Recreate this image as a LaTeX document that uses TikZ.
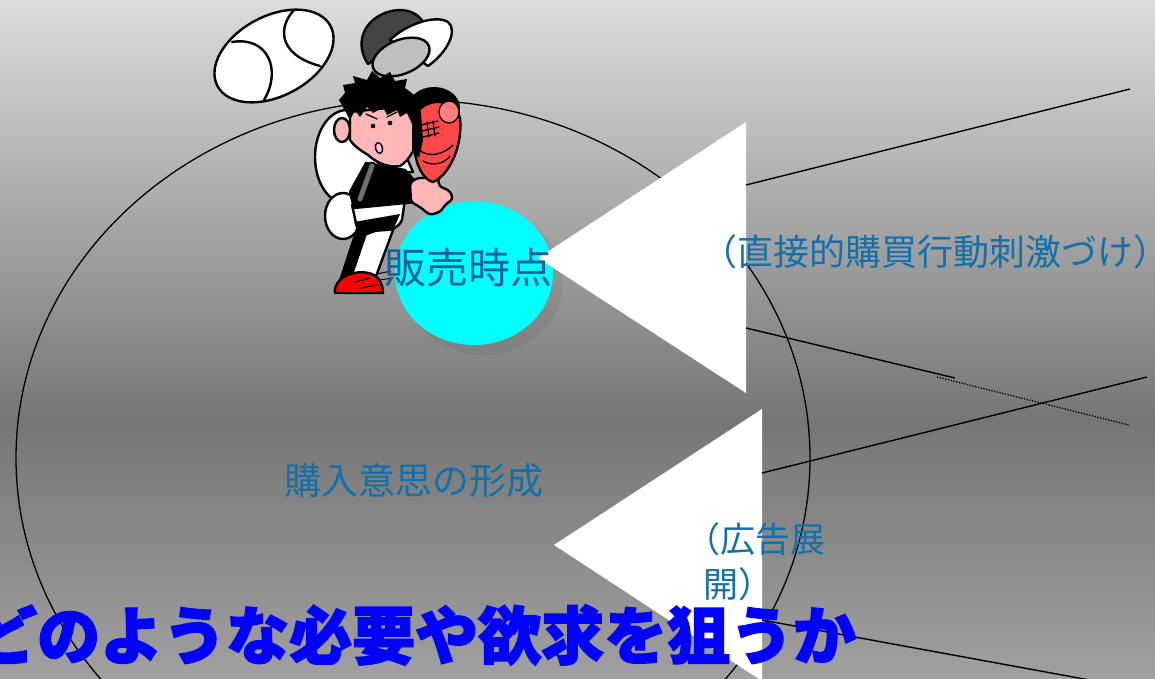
\documentclass[tikz,border=0pt]{standalone}
\usepackage{fontspec}
\usetikzlibrary{shapes.geometric}
\newfontfamily\jpfont{Noto Sans CJK JP}
\newfontfamily\jphalf{Noto Sans CJK JP}[RawFeature=+halt]
\newfontfamily\jpheavy{Noto Sans CJK JP}[FakeBold=2.4]
\newcommand*\lpar{{\jphalf （}}
\newcommand*\rpar{{\jphalf ）}}
\definecolor{bgtop}{RGB}{220,220,220}
\definecolor{bgmid}{RGB}{118,118,118}
\definecolor{bgbot}{RGB}{160,160,160}
\definecolor{labelblue}{RGB}{18,112,170}
\definecolor{posblue}{RGB}{14,98,158}
\definecolor{titleblue}{RGB}{0,0,255}
\definecolor{disc}{RGB}{0,255,255}
\definecolor{skin}{RGB}{255,182,182}
\definecolor{glovered}{RGB}{255,72,72}
\definecolor{capdark}{RGB}{68,68,68}
\definecolor{capunder}{RGB}{192,192,192}
\definecolor{mouthpink}{RGB}{238,196,238}
\definecolor{stripegray}{RGB}{110,110,110}
\begin{document}
\begin{tikzpicture}[x=1pt,y=-1pt,
  ink/.style={draw=black, line width=2.4pt, line join=round, line cap=round},
  fine ink/.style={draw=black, line width=1.3pt, line cap=round},
  leader/.style={draw=black, line width=1.4pt},
  dotted leader/.style={draw=black, line width=1.3pt, dash pattern=on 1.3pt off 1.5pt},
  pointer/.style={fill=white},
  label text/.style={inner sep=0, text=labelblue},
]
\useasboundingbox (0,0) rectangle (1155,678);
\clip (0,0) rectangle (1155,678);

% backdrop
\shade[top color=bgtop, bottom color=bgmid] (0,0) rectangle (1155,421);
\shade[top color=bgmid, bottom color=bgbot] (0,420) rectangle (1155,678);

% outer ring and point-of-sale disc
\node[ellipse, draw=black, line width=1.3pt, minimum width=794, minimum height=716, inner sep=0] (market) at (413,458) {};
\fill[black, opacity=0.05] (483,282) ellipse [x radius=80, y radius=73];
\node[ellipse, fill=disc, minimum width=158, minimum height=144, inner sep=0] (pos) at (474,273) {};

% ---- pitcher ----
% ball
\begin{scope}
  \clip[rotate around={28:(274,56)}] (274,56) ellipse [x radius=64, y radius=40];
  \fill[white, rotate around={28:(274,56)}] (274,56) ellipse [x radius=64, y radius=40];
  \draw[ink] (296,8) .. controls (278,25) and (276,54) .. (320,66);
  \draw[ink] (232,42) .. controls (268,36) and (282,70) .. (264,100);
\end{scope}
\draw[ink, rotate around={28:(274,56)}] (274,56) ellipse [x radius=64, y radius=40];
% cap
\draw[ink, fill=capdark] (368,64) .. controls (355,45) and (362,22) .. (385,13) .. controls (400,7) and (418,10) .. (424,24) -- cycle;
\draw[ink, fill=white] (390,40) .. controls (405,25) and (435,14) .. (448,22) .. controls (458,30) and (448,52) .. (428,66) -- cycle;
\draw[ink, fill=capunder, rotate around={22:(401,57)}] (401,57) ellipse [x radius=30, y radius=17];
% body
\draw[ink, fill=white] (347,157) ellipse [x radius=32, y radius=47];
\draw[ink, fill=white] (343,216) ellipse [x radius=18, y radius=23];
\draw[ink, fill=white] (358,226) -- (396,222) -- (375,279) -- (340,281) -- cycle;
\fill[black] (358,226) -- (369,228) -- (351,281) -- (340,281) -- cycle;
\draw[ink, fill=white] (352,205) -- (405,199) -- (402,220) .. controls (398,228) and (392,230) .. (386,230) -- (358,232) -- cycle;
\fill[black] (354,222) -- (400,214) -- (394,228) .. controls (380,230) and (368,234) .. (362,238) -- cycle;
\draw[ink, fill=white] (376,158) -- (406,156) -- (413,172) -- (384,174) -- cycle;
\draw[ink, fill=black] (366,163) -- (405,170) -- (414,180) -- (416,202) -- (354,208) -- (350,192) -- cycle;
\draw[black, line width=9pt, line cap=round] (372,166) -- (360,199);
\draw[stripegray, line width=5pt, line cap=round] (372,166) -- (360,199);
% pitching hand
\draw[ink, fill=skin, rounded corners=3pt] (410,183) -- (417,178) -- (428,178) -- (432,172) -- (438,176) -- (439,186) -- (450,191) -- (453,199) -- (446,204) -- (440,212) -- (430,215) -- (420,207) -- (411,202) -- cycle;
% glove
\fill[black] (434,108) ellipse [x radius=26, y radius=21];
\draw[ink, fill=glovered] (414,122) .. controls (416,98) and (454,94) .. (460,118) .. controls (463,148) and (448,176) .. (433,182) .. controls (418,178) and (411,150) .. (414,122) -- cycle;
\draw[fine ink, fill=glovered!70!white] (449,112) ellipse [x radius=10, y radius=11];
\draw[fine ink] (421,125) -- (438,121) (422,131) -- (439,127) (423,137) -- (439,133);
\draw[fine ink] (427,122) -- (429,137) (433,121) -- (435,136);
\draw[fine ink] (419,150) .. controls (431,159) and (445,153) .. (453,145);
\draw[fine ink] (423,161) .. controls (433,167) and (445,163) .. (450,156);
% head
\draw[ink, fill=skin] (342,130) ellipse [x radius=8, y radius=12];
\draw[ink, fill=skin] (350,112) -- (415,105) -- (419,130) .. controls (418,145) and (410,160) .. (400,166) .. controls (390,168) and (378,164) .. (368,155) .. controls (360,150) and (354,146) .. (350,140) -- cycle;
\fill[black] (345,93) -- (343,85) -- (355,83) -- (353,76) -- (367,80) -- (372,71) -- (380,78) -- (390,72) -- (395,81) -- (407,79) -- (405,88) -- (417,97) -- (421,113) -- (423,140) -- (419,158) -- (412,150) -- (412,124) -- (407,113) -- (400,117) -- (397,110) -- (387,115) -- (383,107) -- (373,113) -- (367,107) -- (360,117) -- (355,110) -- (350,120) -- (343,107) -- (339,100) -- cycle;
\fill (373,126) circle (2.3);
\fill (390,123) circle (2.3);
\draw[fine ink] (366,114) -- (377,119) (387,117) -- (397,112);
\draw[line width=1.4pt, fill=mouthpink, rotate around={15:(379,148)}] (379,148) ellipse [x radius=3.5, y radius=5.5];
% shoe
\draw[ink, fill=red] (335,293) .. controls (333,278) and (355,268) .. (372,274) .. controls (380,278) and (383,285) .. (383,293) -- cycle;
\draw[fine ink] (355,282) -- (370,278) (360,288) -- (377,285);
\draw[line width=1pt] (377,274) -- (391,271) (379,280) -- (393,278);

% ---- pointers and leader lines ----
\coordinate (tipA) at (538,258);
\coordinate (topA) at (746,122);
\coordinate (botA) at (746,393);
\fill[pointer] (tipA) -- (topA) -- (botA) -- cycle;
\coordinate (tipB) at (554,545);
\coordinate (topB) at (762,409);
\coordinate (botB) at (762,681);
\fill[pointer] (tipB) -- (topB) -- (botB) -- cycle;

\coordinate (a1) at (746,185);  \coordinate (a2) at (1130,89);
\coordinate (b1) at (746,328);  \coordinate (b2) at (955,378);
\coordinate (d1) at (937,377);  \coordinate (d2) at (1129,425);
\coordinate (c1) at (762,473);  \coordinate (c2) at (1147,377);
\coordinate (e1) at (762,620);  \coordinate (e2) at (1095,681);
\draw[leader] (a1) -- (a2);
\draw[leader] (b1) -- (b2);
\draw[dotted leader] (d1) -- (d2);
\draw[leader] (c1) -- (c2);
\draw[leader] (e1) -- (e2);

% ---- labels ----
\node[label text, text=posblue, font=\jpfont\fontsize{42}{50}\selectfont] (posname) at (468,268) {販売時点};
\node[label text, anchor=west, font=\jpfont\fontsize{36}{43}\selectfont] (stim) at (719,252) {\lpar 直接的購買行動刺激づけ\rpar};
\node[label text, font=\jpfont\fontsize{37}{44}\selectfont] (intent) at (414,481) {購入意思の形成};
\node[label text, anchor=west, align=left, font=\jpfont\fontsize{35}{45}\selectfont] (adv) at (703,562) {\lpar 広告展\\開\rpar};
\node[inner sep=0, anchor=west, text=titleblue, font=\jpheavy\bfseries\fontsize{63}{70}\selectfont] (title) at (-26,635) {どのような必要や欲求を狙うか};
\end{tikzpicture}
\end{document}
